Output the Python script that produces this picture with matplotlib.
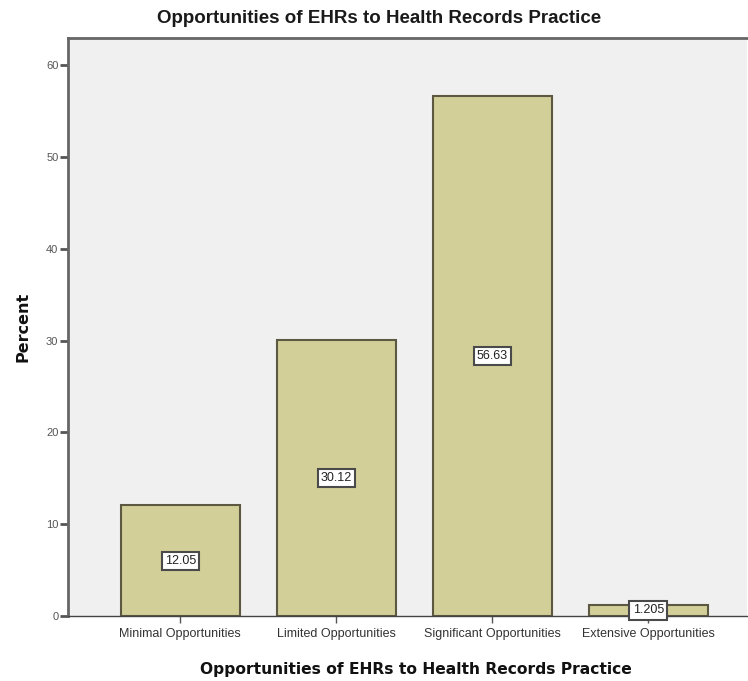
import matplotlib.pyplot as plt

categories = ["Minimal Opportunities", "Limited Opportunities",
              "Significant Opportunities", "Extensive Opportunities"]
percent = [12.05, 30.12, 56.63, 1.205]
value_labels = ["12.05", "30.12", "56.63", "1.205"]
yticks = [0, 10, 20, 30, 40, 50, 60]

narrow = ["Liberation Sans Narrow", "Liberation Sans", "DejaVu Sans"]

fig = plt.figure(figsize=(7.48, 6.81), dpi=100)
ax = fig.add_axes([0.091, 0.0955, 0.907, 0.849])
ax.set_facecolor("#f0f0f0")

x = list(range(len(categories)))
ax.bar(x, percent, width=0.76, color="#d3cf98", edgecolor="#5c5842", linewidth=1.5)

# value boxes sit halfway up each bar
for xi, v, lab in zip(x, percent, value_labels):
    ax.text(xi, v / 2, lab, ha="center", va="center", fontsize=9, family=narrow,
            color="#222222",
            bbox=dict(boxstyle="square,pad=0.25", facecolor="white",
                      edgecolor="#4a4a4a", linewidth=1.5))

ax.set_xlim(-0.72, 3.63)
ax.set_ylim(0, 63)
ax.set_xticks(x)
ax.set_xticklabels(categories, family=narrow, fontsize=9, color="#333333")
ax.set_yticks(yticks)
ax.set_yticklabels([str(t) for t in yticks], family=narrow, fontsize=8, color="#555555")
ax.tick_params(axis="y", length=6, width=2, color="#555555", pad=1)
ax.tick_params(axis="x", length=5, width=1, color="#555555")

for side in ["left", "top"]:
    ax.spines[side].set_color("#666666")
    ax.spines[side].set_linewidth(2)
ax.spines["bottom"].set_color("#444444")
ax.spines["bottom"].set_linewidth(1)
ax.spines["right"].set_visible(False)

fig.text(0.507, 0.973, "Opportunities of EHRs to Health Records Practice", family=narrow,
         fontsize=13.5, fontweight="bold", color="#1a1a1a", ha="center", va="center")
ax.set_xlabel("Opportunities of EHRs to Health Records Practice", fontsize=11.2,
              fontweight="bold", color="#111111")
ax.xaxis.set_label_coords(0.513, -0.08)
ax.set_ylabel("Percent", fontsize=11.5, fontweight="bold", color="#111111", labelpad=11)

fig.savefig("out.png", dpi=100, facecolor="white")
